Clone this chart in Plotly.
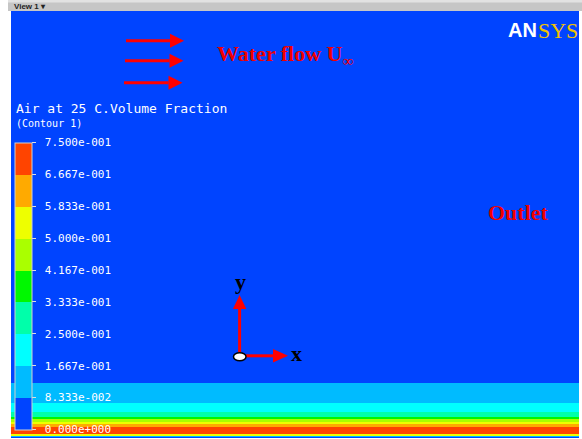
import plotly.graph_objects as go

# ---------------------------------------------------------------- data
# Legend levels of the air volume fraction contour
levels = [0.0, 0.08333, 0.16667, 0.25, 0.33333, 0.41667, 0.5, 0.58333, 0.66667, 0.75]
level_labels = ["0.000e+000", "8.333e-002", "1.667e-001", "2.500e-001", "3.333e-001",
                "4.167e-001", "5.000e-001", "5.833e-001", "6.667e-001", "7.500e-001"]
band_colors = ["#0044FF", "#00BBFF", "#00FFFF", "#00FFAA", "#00F800",
               "#AAFF00", "#EEFF00", "#FFAA00", "#FF4400"]

# Wall-normal profile: band edges (height above the lower wall) and the
# volume fraction inside each band
profile_edges = [0, 0.8, 1.6, 2.4, 3.7, 11.3, 13.7, 16.3, 19.0, 21.3, 26.3, 34.7, 54.7, 427]
profile_frac = [0.04, 0.125, 0.375, 0.54, 0.71, 0.625, 0.54, 0.46, 0.375, 0.29, 0.21, 0.125, 0.04]
stream_edges = [0.0, 1.0]

# ---------------------------------------------------------------- layout helpers
W, H = 582, 439
ML, MR, MT, MB = 11, 3, 11, 1
PW, PH = W - ML - MR, H - MT - MB


def px(x):
    return (x - ML) / PW


def py(y):
    return (H - MB - y) / PH


zmax = levels[-1]
n = len(band_colors)
cscale = []
for i, c in enumerate(band_colors):
    cscale.append([i / n, c])
    cscale.append([(i + 1) / n, c])

fig = go.Figure()
fig.add_trace(go.Heatmap(
    x=stream_edges,
    y=profile_edges,
    z=[[v] for v in profile_frac],
    zmin=0, zmax=zmax,
    colorscale=cscale,
    hoverinfo="skip",
    colorbar=dict(
        x=px(15), xanchor="left", xpad=0,
        y=py(429.5), yanchor="bottom", ypad=0,
        len=287, lenmode="pixels",
        thickness=17, thicknessmode="pixels",
        outlinecolor="#D0D0D0", outlinewidth=1,
        borderwidth=0, bgcolor="rgba(0,0,0,0)",
        tickmode="array", tickvals=levels,
        ticktext=["\u00a0" + t for t in level_labels],
        ticks="outside", ticklen=4, tickwidth=1, tickcolor="#DDDDDD",
        tickfont=dict(family="DejaVu Sans Mono", size=11, color="white"),
    ),
))

shapes = []
annotations = []
RED = "#FF0000"


def arrow(x0, y0, x1, y1, head_len=14, half_w=7, width=3, color=RED):
    # shaft + triangular head, in pixel coordinates converted to paper
    if y0 == y1:
        d = 1 if x1 > x0 else -1
        bx = x1 - d * head_len
        shapes.append(dict(type="line", xref="paper", yref="paper",
                           x0=px(x0), y0=py(y0), x1=px(bx), y1=py(y1),
                           line=dict(color=color, width=width)))
        path = (f"M {px(bx)},{py(y1 - half_w)} L {px(x1)},{py(y1)} "
                f"L {px(bx)},{py(y1 + half_w)} Z")
    else:
        d = 1 if y1 > y0 else -1
        by = y1 - d * head_len
        shapes.append(dict(type="line", xref="paper", yref="paper",
                           x0=px(x0), y0=py(y0), x1=px(x1), y1=py(by),
                           line=dict(color=color, width=width)))
        path = (f"M {px(x1 - half_w)},{py(by)} L {px(x1)},{py(y1)} "
                f"L {px(x1 + half_w)},{py(by)} Z")
    shapes.append(dict(type="path", xref="paper", yref="paper", path=path,
                       fillcolor=color, line=dict(color=color, width=0)))


def text(x, y, s, size, color, family, xanchor="center", yanchor="middle"):
    annotations.append(dict(x=px(x), y=py(y), xref="paper", yref="paper",
                            text=s, showarrow=False, xanchor=xanchor,
                            yanchor=yanchor, borderpad=0,
                            font=dict(size=size, color=color, family=family)))


# viewer title bar
shapes.append(dict(type="rect", xref="paper", yref="paper", layer="above",
                   x0=px(8), x1=px(582), y0=py(11), y1=py(0),
                   fillcolor="#C6C6C6", line=dict(width=0)))
shapes.append(dict(type="rect", xref="paper", yref="paper", layer="above",
                   x0=px(8), x1=px(582), y0=py(2.5), y1=py(0),
                   fillcolor="#E2E2E2", line=dict(width=0)))
text(13, 6.5, "<b>View 1 ▾</b>", 8, "#222222", "Liberation Sans", xanchor="left")

# inlet flow arrows
arrow(126, 40.7, 184, 40.7)
arrow(125, 60.7, 183.5, 60.7)
arrow(124, 82.7, 182.5, 82.7)
text(216, 55, "<b>Water flow U<sub>∞</sub></b>", 22, "#F00000",
     "Liberation Serif", xanchor="left")
text(518, 212, "<b>Outlet</b>", 22, "#F00000", "Liberation Serif")

# coordinate system triad
arrow(239.6, 352, 239.6, 295, head_len=14, half_w=6.7, width=3)
arrow(246, 355.8, 288, 355.8, head_len=15, half_w=6.7, width=3)
shapes.append(dict(type="circle", xref="paper", yref="paper",
                   x0=px(233.5), x1=px(246), y0=py(360.7), y1=py(352.7),
                   fillcolor="white", line=dict(color="black", width=1.5)))
text(240.7, 281, "<b>y</b>", 22, "black", "Liberation Serif")
text(296, 353, "<b>x</b>", 22, "black", "Liberation Serif")

# legend title
text(15, 108, "Air at 25 C.Volume Fraction", 13, "white", "DejaVu Sans Mono",
     xanchor="left")
text(15, 123.5, "(Contour 1)", 10, "white", "DejaVu Sans Mono", xanchor="left")

# product logo
text(537.5, 30, "<b>AN</b>", 20, "white", "Liberation Sans", xanchor="right")
text(537, 30.5, "SYS", 22, "#F2C200", "Liberation Serif", xanchor="left")

fig.update_layout(
    width=W, height=H,
    margin=dict(l=ML, r=MR, t=MT, b=MB, pad=0),
    paper_bgcolor="white", plot_bgcolor="#0044FF",
    xaxis=dict(range=[0, 1], visible=False, fixedrange=True),
    yaxis=dict(range=[0, profile_edges[-1]], visible=False, fixedrange=True),
    shapes=shapes, annotations=annotations, showlegend=False,
)

fig.write_html("out.html")
